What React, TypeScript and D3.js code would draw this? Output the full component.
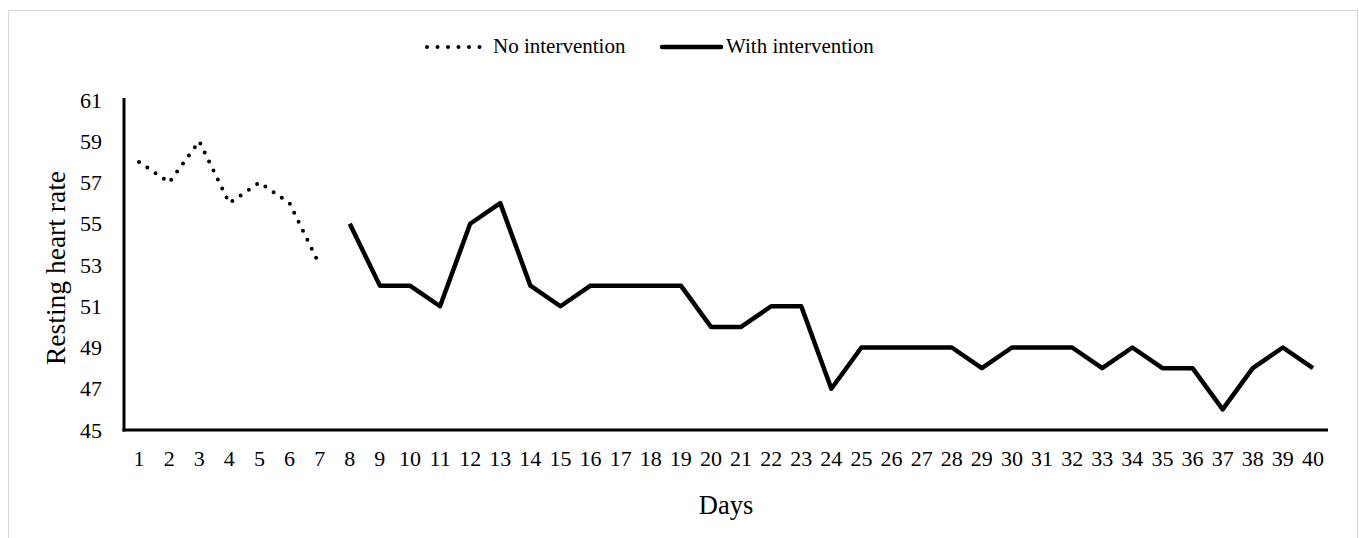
import React from "react";
import * as d3 from "d3";

const days: number[] = d3.range(1, 41);
const noInterventionDays: number[] = [1, 2, 3, 4, 5, 6, 7];
const noInterventionValues: number[] = [58, 57, 59, 56, 57, 56, 53];
const withInterventionDays: number[] = d3.range(8, 41);
const withInterventionValues: number[] = [
  55, 52, 52, 51, 55, 56, 52, 51, 52, 52, 52, 52, 50, 50, 51, 51, 47, 49, 49, 49,
  49, 48, 49, 49, 49, 48, 49, 48, 48, 46, 48, 49, 48,
];
const yTicks: number[] = [45, 47, 49, 51, 53, 55, 57, 59, 61];

const W = 1359;
const H = 538;
const left = 124;
const right = 1328;
const top = 100;
const bottom = 430;
const font = "'Liberation Serif', 'Times New Roman', serif";

export default function App() {
  const x = d3.scaleBand<number>().domain(days).range([left, right]).padding(0);
  const cx = (d: number) => (x(d) as number) + x.bandwidth() / 2;
  const y = d3.scaleLinear().domain([45, 61]).range([bottom, top]);
  const line = d3
    .line<[number, number]>()
    .x((d) => cx(d[0]))
    .y((d) => y(d[1]));
  const noPts: [number, number][] = noInterventionDays.map((d, i) => [d, noInterventionValues[i]]);
  const withPts: [number, number][] = withInterventionDays.map((d, i) => [d, withInterventionValues[i]]);

  return (
    <svg
      width={W}
      height={H}
      style={{ position: "absolute", left: 0, top: 0, display: "block" }}
    >
      <rect x={0} y={0} width={W} height={H} fill="#fff" />
      <rect x={8.5} y={10.5} width={1349} height={560} fill="#fff" stroke="#d9d9d9" strokeWidth={1} />
      {/* legend */}
      <line x1={427} x2={482} y1={47} y2={47} stroke="#000" strokeWidth={4} strokeLinecap="round" strokeDasharray="0 10.5" />
      <text x={493} y={53} fontFamily={font} fontSize={21} fill="#000">No intervention</text>
      <line x1={662} x2={721} y1={47} y2={47} stroke="#000" strokeWidth={4.5} strokeLinecap="round" />
      <text x={726} y={53} fontFamily={font} fontSize={21} fill="#000">With intervention</text>

      {/* y axis ticks */}
      {yTicks.map((t) => (
        <text key={t} x={102} y={y(t) + 7.5} textAnchor="end" fontFamily={font} fontSize={22} fill="#000">
          {t}
        </text>
      ))}
      {/* x tick labels */}
      {days.map((d) => (
        <text key={d} x={cx(d)} y={466} textAnchor="middle" fontFamily={font} fontSize={22} fill="#000">
          {d}
        </text>
      ))}
      {/* axes */}
      <line x1={left} x2={left} y1={98} y2={bottom + 1.5} stroke="#000" strokeWidth={3} />
      <line x1={left - 1.5} x2={right} y1={bottom} y2={bottom} stroke="#000" strokeWidth={3} />

      {/* series */}
      <path d={line(noPts) || ""} fill="none" stroke="#000" strokeWidth={4} strokeLinecap="round" strokeDasharray="0 10" />
      <path d={line(withPts) || ""} fill="none" stroke="#000" strokeWidth={4.5} strokeLinejoin="round" />

      {/* axis titles */}
      <text
        transform={`translate(65,268) rotate(-90)`}
        textAnchor="middle"
        fontFamily={font}
        fontSize={27.5}
        fill="#000"
      >
        Resting heart rate
      </text>
      <text x={726} y={514} textAnchor="middle" fontFamily={font} fontSize={26.5} fill="#000">
        Days
      </text>
    </svg>
  );
}
